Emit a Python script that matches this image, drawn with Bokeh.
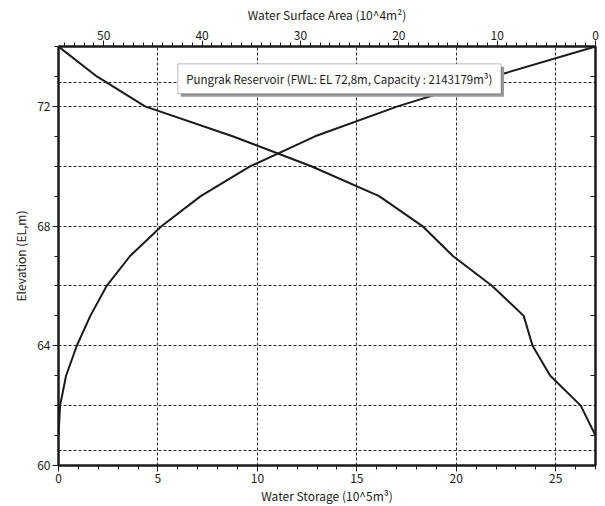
from bokeh.plotting import figure
from bokeh.models import (Range1d, LinearAxis, FixedTicker, BoxAnnotation, Label,
                          CustomJSTickFormatter)
from bokeh.embed import file_html
from bokeh.resources import INLINE

# Elevation-capacity-area curves of Pungrak Reservoir
elevation = [61, 62, 63, 64, 65, 66, 67, 68, 69, 70, 71, 72, 73, 74]          # EL.m
storage = [0.0, 0.08, 0.38, 0.92, 1.6, 2.42, 3.6, 5.19, 7.15, 9.65, 12.9, 17.05, 21.9, 27.0]   # 10^5 m3
surface_area = [0.0, 1.5, 4.6, 6.4, 7.3, 10.5, 14.5, 17.6, 22.0, 28.9, 36.9, 45.8, 50.7, 54.6]  # 10^4 m2

storage_ticks = [0, 5, 10, 15, 20, 25]
area_ticks = [0, 10, 20, 30, 40, 50]
elev_ticks = [60, 64, 68, 72]
elev_grid = [60.5, 62, 64, 66, 68, 70, 72, 72.8]   # dead water level, grid, full water level
storage_grid = [5, 10, 15, 20, 25]

FONT = "Noto Sans CJK KR"
INK = "#1a1a1a"

p = figure(width=605, height=506, x_range=Range1d(0, 27), y_range=Range1d(60, 74),
           output_backend="svg", toolbar_location=None,
           min_border_left=58, min_border_right=10, min_border_top=46, min_border_bottom=38)
p.extra_x_ranges = {"area": Range1d(start=54.6, end=0)}
p.background_fill_color = "white"
p.border_fill_color = "white"
p.outline_line_color = INK
p.outline_line_width = 2


def style_axis(ax, size="12px"):
    ax.axis_line_color = INK
    ax.axis_line_width = 2
    ax.major_tick_line_color = INK
    ax.minor_tick_line_color = INK
    ax.major_tick_out = 6
    ax.major_tick_in = 0
    ax.minor_tick_out = 4
    ax.minor_tick_in = 0
    ax.major_label_text_font = FONT
    ax.major_label_text_font_size = size
    ax.major_label_text_color = INK
    ax.axis_label_text_font = FONT
    ax.axis_label_text_font_size = size
    ax.axis_label_text_font_style = "normal"
    ax.axis_label_text_color = INK
    ax.major_label_standoff = 2
    ax.axis_label_standoff = 1


xa = p.xaxis[0]
xa.ticker = FixedTicker(ticks=storage_ticks, minor_ticks=list(range(0, 28)))
xa.axis_label = "Water Storage (10^5m³)"
style_axis(xa)

ya = p.yaxis[0]
ya.ticker = FixedTicker(ticks=elev_ticks, minor_ticks=list(range(60, 75)))
ya.axis_label = "Elevation (EL,m)"
style_axis(ya)
ya.axis_label_standoff = 5

top = LinearAxis(x_range_name="area",
                 ticker=FixedTicker(ticks=area_ticks, minor_ticks=list(range(0, 55))),
                 axis_label="Water Surface Area (10^4m²)")
style_axis(top)
top.axis_label_standoff = 5
top.major_label_standoff = 1
p.add_layout(top, "above")

right = LinearAxis(ticker=FixedTicker(ticks=list(range(61, 74, 2))),
                   formatter=CustomJSTickFormatter(code="return ''"))
style_axis(right)
right.major_tick_in = 5
right.major_tick_out = 0
right.major_label_standoff = 0
p.add_layout(right, "right")

p.xgrid.ticker = FixedTicker(ticks=storage_grid)
p.ygrid.ticker = FixedTicker(ticks=elev_grid)
for g in (p.xgrid[0], p.ygrid[0]):
    g.grid_line_color = "#2a2a2a"
    g.grid_line_dash = "3 2"
    g.grid_line_width = 1

p.line(storage, elevation, line_color=INK, line_width=2)
p.line(surface_area, elevation, line_color=INK, line_width=2, x_range_name="area")

# title box with drop shadow, drawn over the curves
p.add_layout(BoxAnnotation(left=6.15, right=22.4, top=73.32, bottom=72.32, level="overlay",
                           fill_color="#9a9a9a", fill_alpha=1, line_alpha=0))
p.add_layout(BoxAnnotation(left=6.0, right=22.25, top=73.42, bottom=72.42, level="overlay",
                           fill_color="white", fill_alpha=1, line_color=INK, line_width=1))
p.add_layout(Label(x=14.12, y=72.92, text="Pungrak Reservoir (FWL: EL 72,8m, Capacity : 2143179m³)",
                   level="overlay", text_align="center", text_baseline="middle", text_font=FONT,
                   text_font_size="11.5px", text_color=INK))

open("out.html", "w").write(file_html(p, INLINE))
